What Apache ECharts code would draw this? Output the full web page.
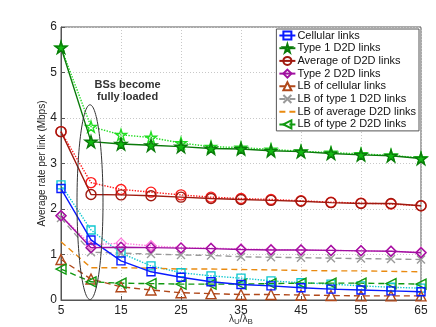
<!DOCTYPE html>
<html>
<head>
<meta charset="UTF-8">
<title>Average rate per link</title>
<script src="https://cdn.jsdelivr.net/npm/echarts@6/dist/echarts.min.js"></script>
<style>html,body{margin:0;padding:0;background:#fff;}</style>
</head>
<body>
<div id="main" style="width:436px;height:327px;"></div>
<script>
// x values (lambda_U / lambda_B)
var ratio = [5, 10, 15, 20, 25, 30, 35, 40, 45, 50, 55, 60, 65];
var xTicks = [5, 15, 25, 35, 45, 55, 65];

// analysis (solid) and simulation (dotted)
var cellular    = [2.45, 1.32, 0.86, 0.62, 0.50, 0.40, 0.34, 0.31, 0.27, 0.24, 0.22, 0.20, 0.18];
var cellularSim = [2.53, 1.54, 1.03, 0.75, 0.60, 0.53, 0.48, 0.42, 0.38, 0.35, 0.31, 0.28, 0.26];
var type1       = [5.55, 3.48, 3.43, 3.40, 3.37, 3.33, 3.32, 3.28, 3.26, 3.22, 3.19, 3.17, 3.11];
var type1Sim    = [5.55, 3.81, 3.63, 3.57, 3.45, 3.37, 3.35, 3.31, 3.27, 3.24, 3.21, 3.18, 3.12];
var avgD2D      = [3.70, 2.32, 2.31, 2.29, 2.26, 2.23, 2.21, 2.19, 2.17, 2.14, 2.12, 2.12, 2.07];
var avgD2DSim   = [3.70, 2.58, 2.43, 2.37, 2.31, 2.26, 2.23, 2.21, 2.18, 2.15, 2.13, 2.11, 2.07];
var type2       = [1.85, 1.15, 1.16, 1.15, 1.14, 1.13, 1.11, 1.10, 1.10, 1.09, 1.08, 1.07, 1.04];
var type2Sim    = [1.85, 1.21, 1.25, 1.19, 1.15, 1.14, 1.12, 1.11, 1.10, 1.09, 1.08, 1.07, 1.05];
// lower bounds (dashed)
var lbCell  = [0.89, 0.46, 0.29, 0.22, 0.16, 0.14, 0.12, 0.12, 0.11, 0.10, 0.09, 0.09, 0.09];
var lbType1 = [1.80, 1.05, 1.03, 1.01, 0.99, 0.98, 0.95, 0.94, 0.93, 0.92, 0.91, 0.90, 0.89];
var lbAvg   = [1.28, 0.71, 0.71, 0.70, 0.68, 0.68, 0.67, 0.66, 0.65, 0.64, 0.64, 0.63, 0.62];
var lbType2 = [0.68, 0.40, 0.37, 0.36, 0.35, 0.35, 0.35, 0.36, 0.37, 0.37, 0.37, 0.36, 0.35];

var legendNames = ['Cellular links', 'Type 1 D2D links', 'Average of D2D links', 'Type 2 D2D links',
  'LB of cellular links', 'LB of type 1 D2D links', 'LB of average D2D links', 'LB of type 2 D2D links'];

var FONT = '"Liberation Sans", Arial, sans-serif';
var STAR = 'path://M50,0L61,35L98,35L68,57L79,91L50,70L21,91L32,57L2,35L39,35Z';
var CROSS = 'path://M0,0L10,10M10,0L0,10';
var LTRI = 'path://M0,5L10,0L10,10Z';

function pairs(ys) {
  return ys.map(function (v, i) { return [ratio[i], v]; });
}

function mk(name, ys, color, lineType, symbol, size, fill, z) {
  return {
    name: name,
    type: 'line',
    data: pairs(ys),
    z: z || 2,
    symbol: symbol,
    symbolSize: size,
    showSymbol: symbol !== 'none',
    lineStyle: { color: color, width: 1.4, type: lineType },
    itemStyle: { color: fill || 'rgba(0,0,0,0)', borderColor: color, borderWidth: 1.4 },
    emphasis: { disabled: true },
    animation: false
  };
}

var legendData = legendNames.map(function (n) {
  // the average lower bound has no marker
  if (n === 'LB of average D2D links') return { name: n, itemStyle: { opacity: 0 } };
  return { name: n };
});

var myChart = echarts.init(document.getElementById('main'));

var option = {
  backgroundColor: '#fff',
  textStyle: { fontFamily: FONT },
  grid: { left: 61, right: 15, top: 27, bottom: 27, show: true, borderColor: '#555', borderWidth: 1,
    containLabel: false, outerBoundsMode: 'none' },
  xAxis: {
    type: 'value', min: 5, max: 65, interval: 10,
    name: '{m|λ}{s|U}{m|/λ}{s|B}',
    nameLocation: 'middle', nameGap: 12, nameMoveOverlap: false,
    nameTextStyle: {
      verticalAlign: 'top',
      rich: {
        m: { fontSize: 10, color: '#333', fontFamily: FONT },
        s: { fontSize: 8, color: '#333', fontFamily: FONT, padding: [6, 0, 0, 0] }
      }
    },
    axisLine: { lineStyle: { color: '#555' } },
    axisTick: { inside: true, length: 4, lineStyle: { color: '#555' } },
    axisLabel: { color: '#222', fontSize: 12, margin: 5,
      formatter: function (v) { return xTicks.indexOf(v) >= 0 ? v : ''; } },
    splitLine: { show: true, lineStyle: { color: '#c8c8c8', type: [1, 2] } }
  },
  yAxis: {
    type: 'value', min: 0, max: 6, interval: 1,
    name: 'Average rate per link (Mbps)',
    nameLocation: 'middle', nameGap: 14, nameMoveOverlap: false,
    nameTextStyle: { fontSize: 10, color: '#222' },
    axisLine: { show: true, lineStyle: { color: '#555' } },
    axisTick: { show: true, inside: true, length: 4, lineStyle: { color: '#555' } },
    axisLabel: { color: '#222', fontSize: 12, margin: 4 },
    splitLine: { show: true, lineStyle: { color: '#c8c8c8', type: [1, 2] } }
  },
  legend: {
    data: legendData,
    orient: 'vertical',
    right: 17, top: 29,
    backgroundColor: '#fff',
    borderColor: '#555', borderWidth: 1,
    padding: [1, 3, 1, 2],
    itemWidth: 16, itemHeight: 10, itemGap: 1.7,
    textStyle: { fontSize: 11, color: '#111', padding: [0, 0, 0, -3] },
    selectedMode: false
  },
  series: [
    // simulation (dotted, not in legend)
    mk('sim cellular', cellularSim, '#10c8d0', 'dotted', 'rect', 8),
    mk('sim type1', type1Sim, '#22dd22', 'dotted', STAR, 11),
    mk('sim avg', avgD2DSim, '#ff1a1a', 'dotted', 'circle', 10),
    mk('sim type2', type2Sim, '#ff77dd', 'dotted', 'diamond', 10),
    // lower bounds (dashed)
    mk('LB of cellular links', lbCell, '#b0481a', [6, 4], 'triangle', 10),
    mk('LB of type 1 D2D links', lbType1, '#999999', [6, 4], CROSS, 8),
    mk('LB of average D2D links', lbAvg, '#e98a10', [6, 4], 'none', 0),
    mk('LB of type 2 D2D links', lbType2, '#119911', [6, 4], LTRI, 10),
    // analysis (solid)
    mk('Cellular links', cellular, '#0a1aff', 'solid', 'rect', 8, null, 3),
    mk('Type 1 D2D links', type1, '#0a7a0a', 'solid', STAR, 12, '#11bb11', 3),
    mk('Average of D2D links', avgD2D, '#a01a10', 'solid', 'circle', 10, null, 3),
    mk('Type 2 D2D links', type2, '#a010a0', 'solid', 'diamond', 10, null, 3)
  ]
};

myChart.setOption(option);

// annotation: ellipse round x = 10 and the label above it
var c = myChart.convertToPixel({ gridIndex: 0 }, [10, 2.15]);
var topP = myChart.convertToPixel({ gridIndex: 0 }, [10, 4.29]);
var txt = myChart.convertToPixel({ gridIndex: 0 }, [16.1, 4.6]);
myChart.setOption({
  graphic: [
    {
      type: 'ellipse',
      shape: { cx: c[0] - 1, cy: c[1], rx: 13, ry: c[1] - topP[1] },
      style: { fill: 'none', stroke: '#333', lineWidth: 1 },
      z: 10
    },
    {
      type: 'text',
      x: txt[0], y: txt[1],
      style: {
        text: 'BSs become\nfully loaded',
        fill: '#333', font: 'bold 11px ' + FONT,
        textAlign: 'center', textVerticalAlign: 'middle', lineHeight: 12
      },
      z: 10
    }
  ]
});
</script>
</body>
</html>
